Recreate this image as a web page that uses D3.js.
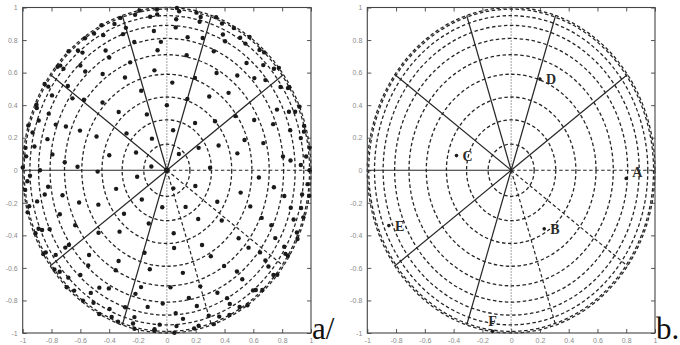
<!DOCTYPE html>
<html>
<head>
<meta charset="utf-8">
<script src="https://cdn.jsdelivr.net/npm/d3@7"></script>
<style>
  body { margin: 0; background: #fff; }
  svg { display: block; }
</style>
</head>
<body>
<svg id="chart"></svg>
<script>
// tick labels on both axes
const tickValues = [-1, -0.8, -0.6, -0.4, -0.2, 0, 0.2, 0.4, 0.6, 0.8, 1];

// dashed concentric circles (radius, read along the axes)
const circleRadii = [0.16, 0.31, 0.45, 0.59, 0.71, 0.81, 0.89, 0.95, 0.99, 1.0];

// spokes from the centre, in degrees
const solidSpokes = [36, 72, 108, 144, 180, 216, 252];
const dashedSpokes = [0, 288, 324];

// panel a/ sample points, ring by ring: [angle in degrees, radius]
const ring1 = [[50, 0.13], [168, 0.11], [292, 0.12]];
const ring2 = [[3, 0.30], [32, 0.26], [80, 0.25], [118, 0.22], [153, 0.24], [191, 0.21], [226, 0.25], [262, 0.23], [300, 0.26], [334, 0.22]];
const ring3 = [[23, 0.39], [56, 0.35], [90, 0.40], [112, 0.37], [141, 0.36], [167, 0.41], [198, 0.37], [222, 0.40], [249, 0.35], [277, 0.39], [306, 0.37], [331, 0.40]];
const ring4 = [[12, 0.50], [42, 0.45], [72, 0.46], [86, 0.54], [110, 0.52], [133, 0.49], [157, 0.53], [181, 0.48], [204, 0.52], [229, 0.50], [253, 0.53], [276, 0.48], [298, 0.52], [321, 0.49], [345, 0.53]];
const ring5 = [[19, 0.57], [35, 0.58], [57, 0.54], [71, 0.60], [98, 0.62], [117, 0.64], [137, 0.61], [158, 0.65], [178, 0.62], [198, 0.64], [219, 0.61], [239, 0.65], [259, 0.62], [280, 0.64], [300, 0.61], [320, 0.65], [339, 0.62], [356, 0.64]];
const ring6 = [[14, 0.69], [27, 0.68], [48, 0.64], [60, 0.69], [79, 0.72], [95, 0.74], [111, 0.71], [127, 0.74], [143, 0.72], [159, 0.75], [176, 0.71], [192, 0.74], [208, 0.72], [224, 0.75], [240, 0.71], [256, 0.74], [272, 0.72], [288, 0.75], [304, 0.71], [320, 0.74], [336, 0.72], [352, 0.75]];
const ring7 = [[6, 0.81], [21, 0.79], [43, 0.83], [50, 0.76], [66, 0.80], [80, 0.83], [93, 0.79], [106, 0.82], [120, 0.80], [133, 0.83], [146, 0.79], [160, 0.82], [173, 0.80], [187, 0.83], [200, 0.79], [214, 0.82], [227, 0.80], [241, 0.83], [254, 0.79], [268, 0.82], [281, 0.80], [295, 0.83], [308, 0.79], [322, 0.82], [335, 0.80], [349, 0.83]];
const ring8 = [[4, 0.86], [16, 0.89], [26, 0.85], [39, 0.88], [50, 0.86], [63, 0.89], [73, 0.85], [86, 0.88], [96, 0.86], [110, 0.89], [120, 0.85], [133, 0.88], [143, 0.86], [157, 0.89], [167, 0.85], [180, 0.88], [190, 0.86], [204, 0.89], [214, 0.85], [227, 0.88], [237, 0.86], [251, 0.89], [261, 0.85], [274, 0.88], [284, 0.86], [298, 0.89], [308, 0.85], [321, 0.88], [331, 0.86], [345, 0.89]];
const ring9 = [[2, 0.93], [12, 0.95], [23, 0.92], [33, 0.94], [44, 0.93], [55, 0.95], [65, 0.92], [76, 0.94], [86, 0.93], [97, 0.95], [108, 0.92], [118, 0.94], [129, 0.93], [139, 0.95], [150, 0.92], [161, 0.94], [171, 0.93], [182, 0.95], [192, 0.92], [203, 0.94], [214, 0.93], [224, 0.95], [235, 0.92], [245, 0.94], [256, 0.93], [267, 0.95], [277, 0.92], [288, 0.94], [298, 0.93], [309, 0.95], [320, 0.92], [330, 0.94], [341, 0.93], [351, 0.95]];
const ring10 = [[5, 0.97], [14, 0.98], [22, 0.96], [31, 0.98], [40, 0.97], [49, 0.98], [58, 0.96], [67, 0.98], [76, 0.97], [85, 0.98], [94, 0.96], [103, 0.98], [112, 0.97], [121, 0.98], [130, 0.96], [139, 0.98], [148, 0.97], [157, 0.98], [166, 0.96], [175, 0.98], [184, 0.97], [193, 0.98], [202, 0.96], [211, 0.98], [220, 0.97], [229, 0.98], [238, 0.96], [247, 0.98], [256, 0.97], [265, 0.98], [274, 0.96], [283, 0.98], [292, 0.97], [301, 0.98], [310, 0.96], [319, 0.98], [328, 0.97], [337, 0.98], [346, 0.96], [355, 0.98]];
const ring11 = [[0, 0.99], [8, 1.0], [16, 0.99], [23, 1.0], [31, 0.99], [39, 1.0], [47, 0.99], [55, 1.0], [62, 0.99], [70, 1.0], [78, 0.99], [86, 1.0], [94, 0.99], [101, 1.0], [109, 0.99], [117, 1.0], [125, 0.99], [133, 1.0], [140, 0.99], [148, 1.0], [156, 0.99], [164, 1.0], [172, 0.99], [179, 1.0], [187, 0.99], [195, 1.0], [203, 0.99], [211, 1.0], [218, 0.99], [226, 1.0], [234, 0.99], [242, 1.0], [250, 0.99], [257, 1.0], [265, 0.99], [273, 1.0], [281, 0.99], [289, 1.0], [296, 0.99], [304, 1.0], [312, 0.99], [320, 1.0], [328, 0.99], [335, 1.0], [343, 0.99], [351, 1.0]];
const samplePoints = [].concat(ring1, ring2, ring3, ring4, ring5, ring6, ring7, ring8, ring9, ring10, ring11);

// panel b/ labelled points
const labelNames = ['A', 'B', 'C', 'D', 'E', 'F'];
const labelX = [0.80, 0.23, -0.38, 0.20, -0.85, -0.13];
const labelY = [-0.05, -0.36, 0.09, 0.56, -0.34, -0.99];

const captions = ['a/', 'b.'];

//size
const width = 680;
const height = 345;
const plotTop = 7.5, plotBottom = 333;

const panels = [
  { left: 22.7, right: 311, caption: captions[0] },
  { left: 367.3, right: 655, caption: captions[1] }
];

const svg = d3.select('#chart')
  .attr('width', width)
  .attr('height', height);

const ink = '#262626';
const dash = '3.5,2.5';

panels.forEach((p, i) => {
  const x = d3.scaleLinear().domain([-1, 1]).range([p.left, p.right]);
  const y = d3.scaleLinear().domain([-1, 1]).range([plotBottom, plotTop]);
  const g = svg.append('g');

  //axes, ticks inward on all four sides
  const fmt = d => String(d);
  const ax = [
    { gen: d3.axisBottom(x).tickFormat(fmt).tickPadding(5), t: `translate(0,${plotBottom})` },
    { gen: d3.axisTop(x).tickFormat(''), t: `translate(0,${plotTop})` },
    { gen: d3.axisLeft(y).tickFormat(fmt).tickPadding(5), t: `translate(${p.left},0)` },
    { gen: d3.axisRight(y).tickFormat(''), t: `translate(${p.right},0)` }
  ];
  ax.forEach(a => {
    const ag = g.append('g')
      .attr('transform', a.t)
      .call(a.gen.tickValues(tickValues).tickSizeInner(-4).tickSizeOuter(0));
    ag.select('.domain').remove();
    ag.selectAll('.tick line').attr('stroke', '#555');
    ag.selectAll('text')
      .attr('fill', '#8a8a8a')
      .style('font-family', 'Liberation Sans, Arial, sans-serif')
      .style('font-size', '7px');
  });

  //dotted vertical zero axis
  g.append('line')
    .attr('x1', x(0)).attr('x2', x(0))
    .attr('y1', y(1)).attr('y2', y(-1))
    .attr('stroke', '#444')
    .attr('stroke-width', 1)
    .attr('stroke-dasharray', '1,2');

  //dashed circles (ellipses because of the aspect)
  g.append('g').selectAll('ellipse')
    .data(circleRadii)
    .enter().append('ellipse')
      .attr('cx', x(0))
      .attr('cy', y(0))
      .attr('rx', d => x(d) - x(0))
      .attr('ry', d => y(0) - y(d))
      .attr('fill', 'none')
      .attr('stroke', ink)
      .attr('stroke-width', 1.3)
      .attr('stroke-dasharray', dash);

  //spokes
  const spoke = (a) => {
    const rad = a * Math.PI / 180;
    return [x(Math.cos(rad)), y(Math.sin(rad))];
  };
  g.append('g').selectAll('line')
    .data(solidSpokes)
    .enter().append('line')
      .attr('x1', x(0)).attr('y1', y(0))
      .attr('x2', d => spoke(d)[0])
      .attr('y2', d => spoke(d)[1])
      .attr('stroke', ink)
      .attr('stroke-width', 1.2);
  g.append('g').selectAll('line')
    .data(dashedSpokes)
    .enter().append('line')
      .attr('x1', x(0)).attr('y1', y(0))
      .attr('x2', d => spoke(d)[0])
      .attr('y2', d => spoke(d)[1])
      .attr('stroke', ink)
      .attr('stroke-width', 1.2)
      .attr('stroke-dasharray', dash);

  //frame
  g.append('rect')
    .attr('x', p.left).attr('y', plotTop)
    .attr('width', p.right - p.left)
    .attr('height', plotBottom - plotTop)
    .attr('fill', 'none')
    .attr('stroke', '#444')
    .attr('stroke-width', 1.1);

  if (i === 0) {
    //sample points
    g.append('g').selectAll('circle')
      .data(samplePoints)
      .enter().append('circle')
        .attr('cx', d => x(d[1] * Math.cos(d[0] * Math.PI / 180)))
        .attr('cy', d => y(d[1] * Math.sin(d[0] * Math.PI / 180)))
        .attr('r', 2.2)
        .attr('fill', '#1a1a1a');
    g.append('circle')
      .attr('cx', x(0)).attr('cy', y(0))
      .attr('r', 2.8)
      .attr('fill', '#1a1a1a');
  } else {
    //labelled points
    const lp = labelNames.map((n, k) => ({ name: n, x: labelX[k], y: labelY[k] }));
    g.append('g').selectAll('circle')
      .data(lp)
      .enter().append('circle')
        .attr('cx', d => x(d.x))
        .attr('cy', d => y(d.y))
        .attr('r', 1.8)
        .attr('fill', '#1a1a1a');
    g.append('g').selectAll('text')
      .data(lp)
      .enter().append('text')
        .attr('x', d => d.name === 'F' ? x(d.x) : x(d.x) + 6)
        .attr('y', d => d.name === 'F' ? y(d.y) - 5 : d.name === 'A' ? y(d.y) - 1 : y(d.y) + 5)
        .attr('text-anchor', d => d.name === 'F' ? 'middle' : 'start')
        .attr('fill', '#2a2a2a')
        .style('font-family', 'Liberation Serif, serif')
        .style('font-weight', 'bold')
        .style('font-size', '14px')
        .text(d => d.name);
  }

  //panel caption
  svg.append('text')
    .attr('x', p.right + 1)
    .attr('y', 339)
    .attr('fill', '#111')
    .style('font-family', 'Liberation Serif, serif')
    .style('font-size', '31px')
    .text(p.caption);
});
</script>
</body>
</html>
